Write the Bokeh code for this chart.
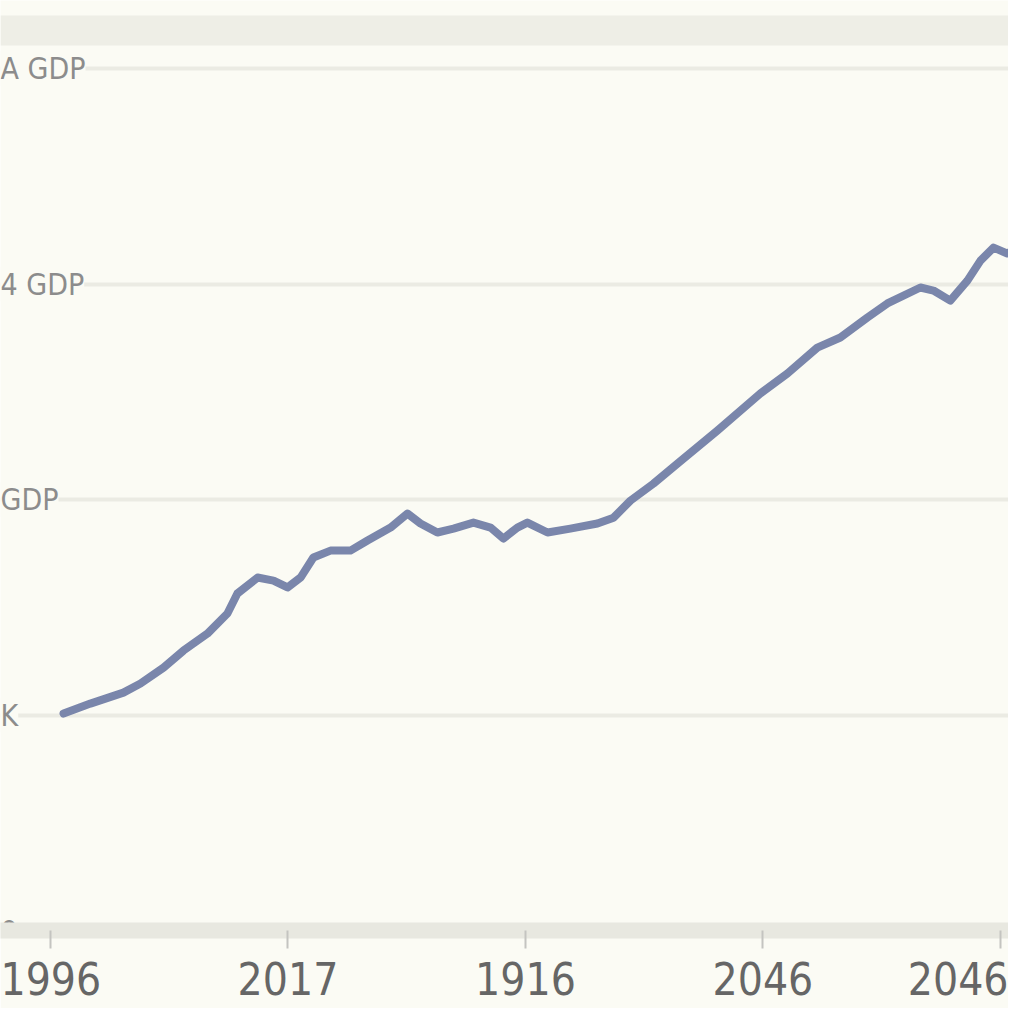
from bokeh.plotting import figure
from bokeh.models import FixedTicker, BoxAnnotation, ColumnDataSource, Range1d
from bokeh.core.properties import value
from bokeh.embed import file_html
from bokeh.resources import INLINE

# ---- data ----
x_ticks = [0, 1, 2, 3, 4]
x_tick_labels = ["1996", "2017", "1916", "2046", "2046"]

y_ticks = [0, 1, 2, 3, 4]
y_tick_labels = ["0", "K", "GDP", "4 GDP", "A GDP"]

series_x = [0.055, 0.168, 0.307, 0.379, 0.476, 0.560, 0.661, 0.745, 0.787, 0.872,
            0.939, 0.998, 1.053, 1.107, 1.179, 1.263, 1.335, 1.432, 1.503, 1.558,
            1.629, 1.697, 1.781, 1.853, 1.907, 1.966, 2.008, 2.093, 2.189, 2.303,
            2.371, 2.442, 2.539, 2.640, 2.808, 2.989, 3.103, 3.229, 3.326, 3.440,
            3.524, 3.663, 3.718, 3.789, 3.861, 3.916, 3.971, 4.029, 4.101]
series_y = [1.007, 1.053, 1.104, 1.146, 1.220, 1.299, 1.378, 1.471, 1.564, 1.638,
            1.624, 1.592, 1.638, 1.731, 1.763, 1.763, 1.810, 1.870, 1.935, 1.889,
            1.847, 1.865, 1.893, 1.870, 1.819, 1.870, 1.893, 1.847, 1.865, 1.889,
            1.916, 1.995, 2.074, 2.167, 2.320, 2.492, 2.585, 2.705, 2.752, 2.845,
            2.910, 2.984, 2.970, 2.923, 3.016, 3.109, 3.169, 3.142, 3.188]

BG = "#fbfbf4"
FONT = "Liberation Sans Narrow, DejaVu Sans Condensed, sans-serif"

x_start, x_end = -0.2105, 4.034
y_start, y_end = 0.0, 4.316

p = figure(width=1008, height=1008, output_backend="svg", toolbar_location=None,
           x_range=Range1d(x_start, x_end), y_range=Range1d(y_start, y_end),
           min_border_left=0, min_border_right=0, min_border_top=0,
           min_border_bottom=78)
p.background_fill_color = BG
p.border_fill_color = BG
p.outline_line_color = None

# top faint band
p.add_layout(BoxAnnotation(bottom=4.107, top=4.246, fill_color="#eeeee6",
                           fill_alpha=1.0, line_color=None, level="underlay"))

# grid
p.xgrid.visible = False
p.yaxis.visible = False
p.ygrid.ticker = FixedTicker(ticks=y_ticks[1:])
p.ygrid.grid_line_color = "#ebebe3"
p.ygrid.grid_line_width = 4

# x axis
xa = p.xaxis[0]
xa.ticker = FixedTicker(ticks=x_ticks)
xa.major_label_overrides = {t: l for t, l in zip(x_ticks, x_tick_labels)}
xa.minor_tick_line_color = None
xa.axis_line_color = "#e8e8e0"
xa.axis_line_width = 16
xa.major_tick_line_color = "#c4c4c0"
xa.major_tick_line_width = 2
xa.major_tick_in = 0
xa.major_tick_out = 18
xa.major_label_standoff = 13
xa.major_label_text_font = FONT
xa.major_label_text_font_size = "44px"
xa.major_label_text_color = "#666666"

# y labels drawn inside the frame
lab_src = ColumnDataSource(dict(x=[x_start] * len(y_ticks), y=y_ticks, t=y_tick_labels))
p.text(x="x", y="y", text="t", source=lab_src, text_align="left",
       text_baseline="middle", text_font=value(FONT), text_font_size="30px",
       text_color="#8c8c8c", background_fill_color=BG)

# series
p.line(series_x, series_y, line_color="#7a86ab", line_width=8, line_join="round",
       line_cap="round")

open("out.html", "w").write(file_html(p, INLINE))
